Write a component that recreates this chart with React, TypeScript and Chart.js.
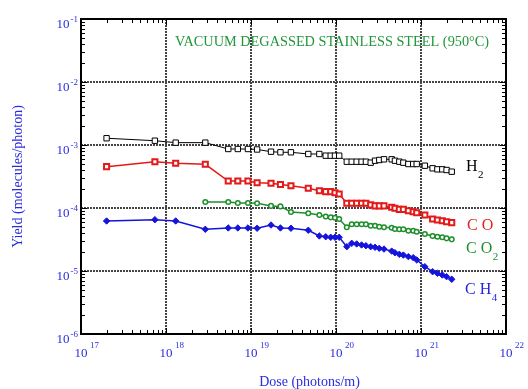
import React, { useEffect, useRef } from "react";
import { Chart, registerables } from "chart.js";

Chart.register(...registerables);

// Dose (photons/m)
const dose = [
  2.0e17, 7.4e17, 1.3e18, 2.9e18, 5.4e18, 7.0e18, 9.2e18, 1.18e19, 1.72e19, 2.22e19,
  2.95e19, 4.72e19, 6.37e19, 7.57e19, 8.67e19, 9.73e19, 1.09e20, 1.34e20, 1.53e20, 1.75e20,
  2.0e20, 2.25e20, 2.56e20, 2.88e20, 3.23e20, 3.67e20, 4.52e20, 4.94e20, 5.56e20, 6.2e20,
  7.1e20, 8.1e20, 8.9e20, 1.11e21, 1.37e21, 1.56e21, 1.78e21, 2.0e21, 2.3e21,
];

// Yield (molecules/photon)
const yieldH2 = [
  1.28e-3, 1.17e-3, 1.09e-3, 1.09e-3, 8.64e-4, 8.64e-4, 8.64e-4, 8.49e-4, 7.83e-4, 7.66e-4,
  7.66e-4, 7.2e-4, 7.2e-4, 6.77e-4, 6.77e-4, 6.77e-4, 6.77e-4, 5.43e-4, 5.43e-4, 5.43e-4,
  5.43e-4, 5.43e-4, 5.24e-4, 5.63e-4, 5.78e-4, 5.93e-4, 5.93e-4, 5.63e-4, 5.43e-4, 5.24e-4,
  4.99e-4, 4.99e-4, 4.99e-4, 4.69e-4, 4.27e-4, 4.11e-4, 4.11e-4, 4.01e-4, 3.77e-4,
];

const yieldCO = [
  4.53e-4, 5.43e-4, 5.13e-4, 4.94e-4, 2.68e-4, 2.68e-4, 2.68e-4, 2.52e-4, 2.47e-4, 2.36e-4,
  2.26e-4, 2.06e-4, 1.88e-4, 1.82e-4, 1.82e-4, 1.75e-4, 1.67e-4, 1.19e-4, 1.19e-4, 1.19e-4,
  1.19e-4, 1.19e-4, 1.12e-4, 1.08e-4, 1.08e-4, 1.08e-4, 1.03e-4, 9.9e-5, 9.5e-5, 9.5e-5,
  9.05e-5, 8.73e-5, 8.42e-5, 7.74e-5, 6.68e-5, 6.45e-5, 6.29e-5, 6.06e-5, 5.85e-5,
];

const yieldCO2 = [
  null, null, null, 1.245e-4, 1.245e-4, 1.2e-4, 1.2e-4, 1.19e-4, 1.08e-4, 1.06e-4,
  8.65e-5, 8.24e-5, 7.74e-5, 7.33e-5, 7.11e-5, 7.01e-5, 6.68e-5, 4.94e-5, 5.51e-5, 5.51e-5,
  5.51e-5, 5.51e-5, 5.24e-5, 5.24e-5, 5.05e-5, 4.94e-5, 4.87e-5, 4.64e-5, 4.59e-5, 4.59e-5,
  4.36e-5, 4.36e-5, 4.2e-5, 3.86e-5, 3.6e-5, 3.5e-5, 3.43e-5, 3.3e-5, 3.18e-5,
];

const yieldCH4 = [
  6.22e-5, 6.52e-5, 6.22e-5, 4.59e-5, 4.82e-5, 4.82e-5, 4.82e-5, 4.77e-5, 5.37e-5, 4.82e-5,
  4.77e-5, 4.43e-5, 3.6e-5, 3.5e-5, 3.43e-5, 3.43e-5, 3.43e-5, 2.43e-5, 2.75e-5, 2.69e-5,
  2.59e-5, 2.52e-5, 2.43e-5, 2.38e-5, 2.29e-5, 2.23e-5, 2.07e-5, 1.95e-5, 1.84e-5, 1.79e-5,
  1.69e-5, 1.63e-5, 1.5e-5, 1.17e-5, 9.75e-6, 9.18e-6, 8.64e-6, 8.13e-6, 7.38e-6,
];

const xExponents = [17, 18, 19, 20, 21, 22];
const yExponents = [-1, -2, -3, -4, -5, -6];

const titleText = "VACUUM DEGASSED STAINLESS STEEL (950°C)";
const xTitle = "Dose (photons/m)";
const yTitle = "Yield (molecules/photon)";

const BLUE = "#2b2be0";
const SERIF = '"Liberation Serif", "Times New Roman", serif';

function toPoints(values: (number | null)[]) {
  const pts: { x: number; y: number }[] = [];
  values.forEach((v, i) => {
    if (v !== null) pts.push({ x: dose[i], y: v });
  });
  return pts;
}

const decorPlugin = {
  id: "decor",
  beforeDatasetsDraw(chart: any) {
    const { ctx, chartArea: a, scales } = chart;
    const x = scales.x;
    const y = scales.y;
    ctx.save();
    ctx.strokeStyle = "#444";
    ctx.lineWidth = 2;
    ctx.setLineDash([2, 1]);
    xExponents.slice(1, -1).forEach((e) => {
      const px = Math.round(x.getPixelForValue(Math.pow(10, e)));
      ctx.beginPath();
      ctx.moveTo(px, a.top);
      ctx.lineTo(px, a.bottom);
      ctx.stroke();
    });
    yExponents.slice(1, -1).forEach((e) => {
      const py = Math.round(y.getPixelForValue(Math.pow(10, e)));
      ctx.beginPath();
      ctx.moveTo(a.left, py);
      ctx.lineTo(a.right, py);
      ctx.stroke();
    });
    ctx.restore();
  },
  afterDatasetsDraw(chart: any) {
    const { ctx, chartArea: a, scales } = chart;
    const x = scales.x;
    const y = scales.y;
    ctx.save();
    ctx.setLineDash([]);
    // frame
    ctx.strokeStyle = "#000";
    ctx.lineWidth = 2;
    ctx.strokeRect(a.left, a.top, a.right - a.left, a.bottom - a.top);
    // ticks
    ctx.lineWidth = 1;
    ctx.beginPath();
    for (let e = 17; e < 22; e++) {
      for (let m = 1; m < 10; m++) {
        const px = Math.round(x.getPixelForValue(m * Math.pow(10, e))) + 0.5;
        const len = m === 1 ? 6 : 4;
        ctx.moveTo(px, a.bottom);
        ctx.lineTo(px, a.bottom - len);
        ctx.moveTo(px, a.top);
        ctx.lineTo(px, a.top + len);
      }
    }
    for (let e = -6; e < -1; e++) {
      for (let m = 1; m < 10; m++) {
        const py = Math.round(y.getPixelForValue(m * Math.pow(10, e))) + 0.5;
        const len = m === 1 ? 6 : 4;
        ctx.moveTo(a.left, py);
        ctx.lineTo(a.left + len, py);
        ctx.moveTo(a.right, py);
        ctx.lineTo(a.right - len, py);
      }
    }
    ctx.stroke();

    // x tick labels
    ctx.fillStyle = BLUE;
    ctx.textBaseline = "alphabetic";
    xExponents.forEach((e) => {
      const px = x.getPixelForValue(Math.pow(10, e));
      ctx.font = `13px ${SERIF}`;
      ctx.textAlign = "center";
      ctx.fillText("10", px, a.bottom + 23);
      ctx.font = `9px ${SERIF}`;
      ctx.textAlign = "left";
      ctx.fillText(String(e), px + 9, a.bottom + 14);
    });
    // y tick labels
    yExponents.forEach((e) => {
      const py = y.getPixelForValue(Math.pow(10, e));
      ctx.font = `9px ${SERIF}`;
      const sup = String(e);
      const sw = ctx.measureText(sup).width;
      ctx.textAlign = "right";
      ctx.fillText(sup, a.left - 3, py + 3);
      ctx.font = `13px ${SERIF}`;
      ctx.fillText("10", a.left - 4 - sw, py + 9);
    });

    // axis titles
    ctx.font = `14px ${SERIF}`;
    ctx.textAlign = "center";
    ctx.fillText(xTitle, (a.left + a.right) / 2 + 16, 386);
    ctx.save();
    ctx.translate(22, (a.top + a.bottom) / 2);
    ctx.rotate(-Math.PI / 2);
    ctx.fillText(yTitle, 0, 0);
    ctx.restore();

    // chart title
    ctx.fillStyle = "#22963a";
    ctx.font = `14.3px ${SERIF}`;
    ctx.textAlign = "left";
    ctx.fillText(titleText, 175, 46);

    // species labels
    const label = (main: string, sub: string, color: string, lx: number, base: number) => {
      ctx.fillStyle = color;
      ctx.font = `16px ${SERIF}`;
      ctx.textAlign = "left";
      ctx.fillText(main, lx, base);
      const w = ctx.measureText(main).width;
      if (sub) {
        ctx.font = `11px ${SERIF}`;
        ctx.fillText(sub, lx + w + 0.5, base + 7);
      }
    };
    label("H", "2", "#000", 466, 171);
    label("C O", "", "#e32222", 467, 230);
    label("C O", "2", "#1f8f2c", 466, 253);
    label("C H", "4", "#2424e0", 465, 294);
    ctx.restore();
  },
};

export default function App() {
  const ref = useRef<HTMLCanvasElement | null>(null);
  useEffect(() => {
    if (!ref.current) return;
    const chart = new Chart(ref.current, {
      type: "line",
      data: {
        datasets: [
          {
            label: "H2",
            data: toPoints(yieldH2),
            borderColor: "#000",
            borderWidth: 1,
            pointStyle: "rect",
            pointRadius: 3.8,
            pointBorderWidth: 1,
            pointBorderColor: "#000",
            pointBackgroundColor: "#fff",
          },
          {
            label: "CO",
            data: toPoints(yieldCO),
            borderColor: "#e31a1a",
            borderWidth: 1.5,
            pointStyle: "rect",
            pointRadius: 3.6,
            pointBorderWidth: 2,
            pointBorderColor: "#e31a1a",
            pointBackgroundColor: "#fff",
          },
          {
            label: "CO2",
            data: toPoints(yieldCO2),
            borderColor: "#1f8f2c",
            borderWidth: 1.5,
            pointStyle: "circle",
            pointRadius: 2.3,
            pointBorderWidth: 1.5,
            pointBorderColor: "#1f8f2c",
            pointBackgroundColor: "#fff",
          },
          {
            label: "CH4",
            data: toPoints(yieldCH4),
            borderColor: "#1414dc",
            borderWidth: 1.5,
            pointStyle: "rectRot",
            pointRadius: 3.2,
            pointBorderWidth: 1,
            pointBorderColor: "#1414dc",
            pointBackgroundColor: "#1414dc",
          },
        ],
      },
      options: {
        animation: false,
        responsive: false,
        maintainAspectRatio: false,
        layout: { padding: { left: 81, right: 22, top: 19, bottom: 55 } },
        plugins: { legend: { display: false }, tooltip: { enabled: false }, title: { display: false } },
        scales: {
          x: { type: "logarithmic", min: 1e17, max: 1e22, display: false },
          y: { type: "logarithmic", min: 1e-6, max: 1e-1, display: false },
        },
      },
      plugins: [decorPlugin],
    } as any);
    return () => chart.destroy();
  }, []);
  return (
    <div style={{ position: "fixed", left: 0, top: 0, width: 528, height: 389, background: "#fff" }}>
      <canvas ref={ref} width={528} height={389} style={{ display: "block" }} />
    </div>
  );
}
